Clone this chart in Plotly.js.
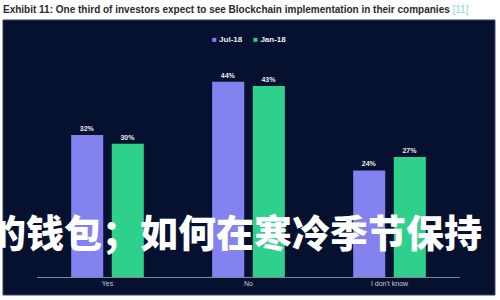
<!DOCTYPE html>
<html>
<head>
<meta charset="utf-8">
<script src="https://cdn.plot.ly/plotly-3.0.1.min.js"></script>
<style>
  html, body { margin: 0; padding: 0; background: #ffffff; }
  #chart { width: 500px; height: 300px; }
</style>
</head>
<body>
<div id="chart"></div>
<script>
// Survey answers and the share of investors giving each one
const categories = ["Yes", "No", "I don't know"];
const seriesNames = ["Jul-18", "Jan-18"];
const jul18 = [32, 44, 24];
const jan18 = [30, 43, 27];

const colors = ["#8482ef", "#2fcf8c"];
const pct = v => v + "%";

function barTrace(name, values, color) {
  return {
    type: "bar",
    name: name,
    x: categories,
    y: values,
    text: values.map(pct),
    textposition: "outside",
    cliponaxis: false,
    textfont: { family: "Liberation Sans, Arial, sans-serif", size: 7, color: "#e8eaf2", weight: "bold" },
    marker: { color: color, line: { width: 0 } },
    hoverinfo: "x+y",
    showlegend: false
  };
}

const data = [
  barTrace(seriesNames[0], jul18, colors[0]),
  barTrace(seriesNames[1], jan18, colors[1])
];

// Legend drawn as one centred line of text above the bars
const legendText = seriesNames
  .map((n, i) => `<span style="color:${colors[i]}">■</span> ${n}`)
  .join("     ");

const layout = {
  width: 500,
  height: 300,
  margin: { l: 37, r: 40, t: 55, b: 23 },
  paper_bgcolor: "#ffffff",
  plot_bgcolor: "rgba(0,0,0,0)",
  barmode: "group",
  bargap: 0.424,
  bargroupgap: 0.21,
  title: {
    text: "<b>Exhibit 11: One third of investors expect to see Blockchain implementation in their companies</b> <span style=\"color:#8fd6d0\">[11]</span>",
    font: { family: "Liberation Sans, Arial, sans-serif", size: 10, color: "#2a2a2a" },
    x: 0.006,
    xanchor: "left",
    xref: "container",
    y: 0.97,
    yanchor: "middle",
    yref: "container"
  },
  xaxis: {
    type: "category",
    showgrid: false,
    zeroline: false,
    showline: true,
    linecolor: "#7e86a3",
    linewidth: 1,
    ticks: "",
    tickfont: { family: "Liberation Sans, Arial, sans-serif", size: 7, color: "#c4c9d8" },
    fixedrange: true
  },
  yaxis: {
    range: [0, 50],
    showgrid: false,
    zeroline: false,
    showline: false,
    showticklabels: false,
    ticks: "",
    fixedrange: true
  },
  shapes: [
    {
      type: "rect",
      xref: "paper", yref: "paper",
      x0: -0.0804, x1: 1.0827,
      y0: -0.0811, y1: 1.1577,
      fillcolor: "#05112f",
      line: { color: "#3a4260", width: 1 },
      layer: "below"
    }
  ],
  annotations: [
    {
      xref: "paper", yref: "paper",
      x: 0.5, y: 1.072,
      xanchor: "center", yanchor: "middle",
      showarrow: false,
      text: legendText,
      font: { family: "Liberation Sans, Arial, sans-serif", size: 8, color: "#eef0f7", weight: "bold" }
    },
    {
      xref: "paper", yref: "paper",
      x: -0.1206, y: 0.2117,
      xanchor: "left", yanchor: "middle",
      showarrow: false,
      text: "的钱包；如何在寒冷季节保持",
      font: { family: "Noto Sans CJK SC, sans-serif", size: 38, color: "#ffffff", weight: 900 }
    }
  ],
  showlegend: false
};

Plotly.newPlot("chart", data, layout, { displayModeBar: false, staticPlot: true });
</script>
</body>
</html>
